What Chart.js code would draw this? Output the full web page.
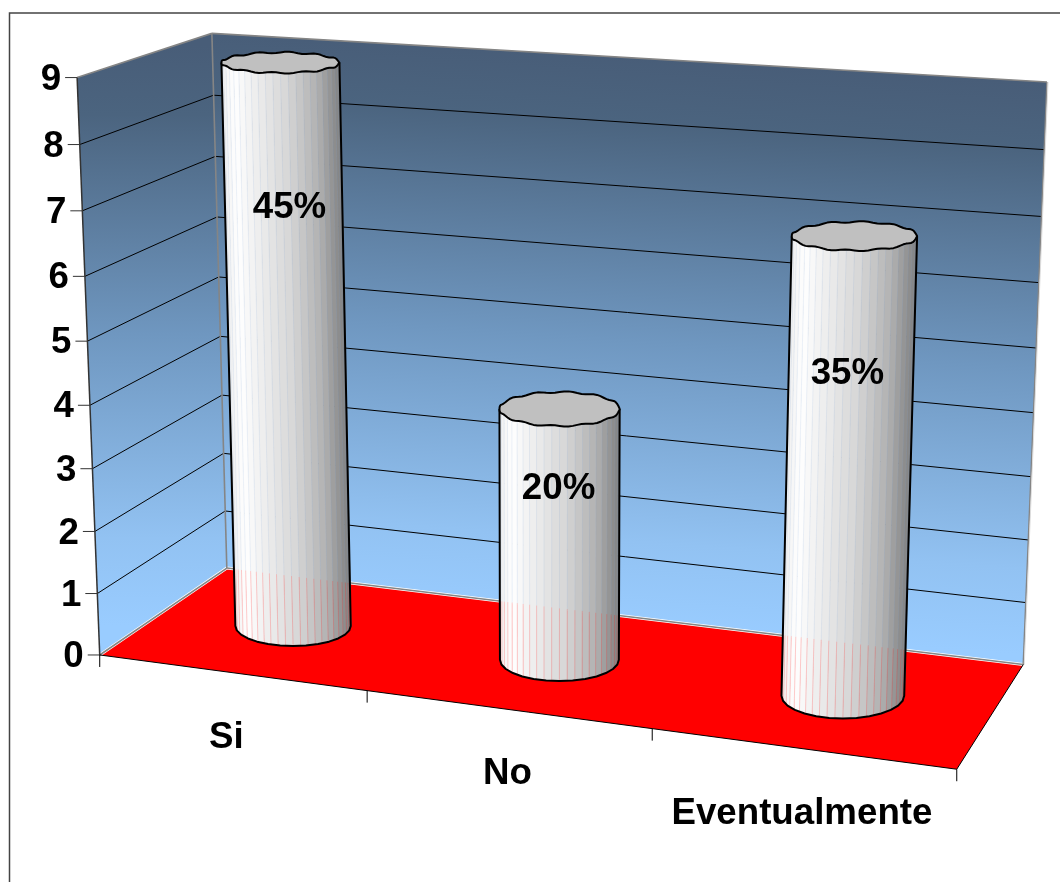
<!DOCTYPE html>
<html>
<head>
<meta charset="utf-8">
<title>Si / No / Eventualmente</title>
<script src="https://cdn.jsdelivr.net/npm/chart.js@4"></script>
<style>
    html, body { margin: 0; padding: 0; background: #fff; }
    canvas { display: block; }
</style>
</head>
<body>
<canvas id="chart" width="1060" height="882"></canvas>
<script>
const categories = ['Si', 'No', 'Eventualmente'];
const answers = [9, 4, 7];
const valueTicks = [0, 1, 2, 3, 4, 5, 6, 7, 8, 9];

// Box corners as [u, v, w, screenX, screenY]: u runs along the categories,
// v up the value axis, w into the depth of the box
const boxCorners = [
    [0, 0, 0, 100, 655], [0, 0, 1, 227, 568], [1, 0, 1, 1023, 665], [1, 0, 0, 957, 768],
    [0, 1, 0, 77, 78], [0, 1, 1, 212, 33], [1, 1, 1, 1047, 82],
    [1 / 3, 0, 0, 366, 690], [2 / 3, 0, 0, 653, 730],
];

// Where the percentage sits, relative to the top of each cylinder
const percentOffsets = [[9, 145], [-1, 80], [-7, 138]];
// Sideways nudge of the category names
const categoryNudge = [-5, 0, 0];

const FONT = 'bold 36.7px "Liberation Sans", Arial, sans-serif';

function solveLinear(a, b) {
    const n = b.length;
    for (let i = 0; i < n; i++) {
        let pivot = i;
        for (let r = i + 1; r < n; r++) {
            if (Math.abs(a[r][i]) > Math.abs(a[pivot][i])) pivot = r;
        }
        [a[i], a[pivot]] = [a[pivot], a[i]];
        [b[i], b[pivot]] = [b[pivot], b[i]];
        for (let r = i + 1; r < n; r++) {
            const f = a[r][i] / a[i][i];
            for (let c = i; c < n; c++) a[r][c] -= f * a[i][c];
            b[r] -= f * b[i];
        }
    }
    const out = new Array(n).fill(0);
    for (let i = n - 1; i >= 0; i--) {
        let s = b[i];
        for (let c = i + 1; c < n; c++) s -= a[i][c] * out[c];
        out[i] = s / a[i][i];
    }
    return out;
}

// Least squares fit of a perspective camera through the box corners
function fitCamera(points) {
    const rows = [];
    const rhs = [];
    points.forEach(([u, v, w, px, py]) => {
        const x = px / 1000;
        const y = py / 1000;
        rows.push([u, v, w, 1, 0, 0, 0, 0, -x * u, -x * v, -x * w]);
        rhs.push(x);
        rows.push([0, 0, 0, 0, u, v, w, 1, -y * u, -y * v, -y * w]);
        rhs.push(y);
    });
    const ata = [];
    const atb = [];
    for (let i = 0; i < 11; i++) {
        ata.push([]);
        let s = 0;
        for (let j = 0; j < 11; j++) {
            let t = 0;
            rows.forEach((r) => { t += r[i] * r[j]; });
            ata[i].push(t);
        }
        rows.forEach((r, k) => { s += r[i] * rhs[k]; });
        atb.push(s);
    }
    return solveLinear(ata, atb);
}

const cam = fitCamera(boxCorners);

function project(u, v, w) {
    const d = cam[8] * u + cam[9] * v + cam[10] * w + 1;
    return {
        x: 1000 * (cam[0] * u + cam[1] * v + cam[2] * w + cam[3]) / d,
        y: 1000 * (cam[4] * u + cam[5] * v + cam[6] * w + cam[7]) / d,
    };
}

function line(ctx, a, b, color, width) {
    ctx.strokeStyle = color;
    ctx.lineWidth = width;
    ctx.beginPath();
    ctx.moveTo(a.x, a.y);
    ctx.lineTo(b.x, b.y);
    ctx.stroke();
}

function polygon(ctx, pts, fill) {
    ctx.fillStyle = fill;
    ctx.beginPath();
    pts.forEach((p, i) => (i ? ctx.lineTo(p.x, p.y) : ctx.moveTo(p.x, p.y)));
    ctx.closePath();
    ctx.fill();
}

function wallGradient(ctx, x0, y0, x1, y1) {
    const g = ctx.createLinearGradient(x0, y0, x1, y1);
    g.addColorStop(0, '#485d78');
    g.addColorStop(0.12, '#4b647f');
    g.addColorStop(0.5, '#6f97c0');
    g.addColorStop(0.85, '#92c2f2');
    g.addColorStop(1, '#99ccff');
    return g;
}

// Facet colour across the visible half of a cylinder, f goes from left to right edge
const shadeStops = [[0, 238], [0.1, 255], [0.3, 236], [0.55, 214], [0.8, 178], [1, 128]];
function shade(f) {
    for (let i = 1; i < shadeStops.length; i++) {
        if (f <= shadeStops[i][0]) {
            const [f0, c0] = shadeStops[i - 1];
            const [f1, c1] = shadeStops[i];
            const c = Math.round(c0 + (c1 - c0) * (f - f0) / (f1 - f0));
            return `rgb(${c},${c},${c})`;
        }
    }
    return 'rgb(128,128,128)';
}

const FACETS = 24;
const RADIUS_U = 0.0715;
const RADIUS_W = 0.225;

function ring(u, v) {
    const c = project(u, v, 0.5);
    const l = project(u - RADIUS_U, v, 0.5);
    const r = project(u + RADIUS_U, v, 0.5);
    const near = project(u, v, 0.5 - RADIUS_W);
    const far = project(u, v, 0.5 + RADIUS_W);
    // The cylinders widen less towards the viewer than the box does
    const rx = ((r.x - l.x) / 2 + 60) / 2;
    return { x: c.x, y: c.y, rx, ry: Math.abs(near.y - far.y) / 2 };
}

function ringPoint(e, theta, wobble) {
    return {
        x: e.x - e.rx * Math.cos(theta),
        y: e.y + e.ry * Math.sin(theta) + wobble * Math.sin(theta * 12),
    };
}

function drawCylinder(ctx, u, v) {
    const top = ring(u, v);
    const bottom = ring(u, 0);
    const backA = project(0, 0, 1);
    const backB = project(1, 0, 1);
    const topEdge = [];
    const bottomEdge = [];
    for (let i = 0; i <= FACETS; i++) {
        const t = Math.PI * i / FACETS;
        topEdge.push(ringPoint(top, t, 0));
        bottomEdge.push(ringPoint(bottom, t, 0));
    }

    // Side facets, overlapped slightly so no gap shows between them
    for (let i = 0; i < FACETS; i++) {
        const t = Math.PI * (i + 0.5) / FACETS;
        const quad = [
            topEdge[i], { x: topEdge[i + 1].x + 0.6, y: topEdge[i + 1].y },
            { x: bottomEdge[i + 1].x + 0.6, y: bottomEdge[i + 1].y }, bottomEdge[i],
        ];
        polygon(ctx, quad, shade((1 - Math.cos(t)) / 2));
    }

    // Hairline seams between facets take a little of what is behind the cylinder
    for (let i = 1; i < FACETS; i++) {
        const a = topEdge[i];
        const b = bottomEdge[i];
        const k = (b.x - backA.x) / (backB.x - backA.x);
        const floorY = backA.y + (backB.y - backA.y) * k;
        const s = (floorY - a.y) / (b.y - a.y);
        const m = s > 0 ? { x: a.x + (b.x - a.x) * s, y: floorY } : a;
        if (s > 0) line(ctx, a, m, 'rgba(130,160,215,0.14)', 1);
        line(ctx, m, b, 'rgba(255,40,40,0.24)', 1);
    }

    ctx.lineJoin = 'round';
    ctx.strokeStyle = '#000';
    ctx.lineWidth = 2;
    ctx.beginPath();
    ctx.moveTo(top.x - top.rx, top.y);
    ctx.lineTo(bottom.x - bottom.rx, bottom.y);
    for (let i = 0; i <= 14; i++) {
        const p = ringPoint(bottom, Math.PI * i / 14, 0);
        ctx.lineTo(p.x, p.y);
    }
    ctx.lineTo(top.x + top.rx, top.y);
    ctx.stroke();

    // Scalloped cap
    ctx.fillStyle = '#c0c0c0';
    ctx.beginPath();
    for (let i = 0; i <= 84; i++) {
        const p = ringPoint(top, 2 * Math.PI * i / 84, 0.8);
        if (i) ctx.lineTo(p.x, p.y);
        else ctx.moveTo(p.x, p.y);
    }
    ctx.closePath();
    ctx.fill();
    ctx.stroke();
}

// Walls, floor and gridlines go down before the bars
const boxPlugin = {
    id: 'box',
    beforeDatasetsDraw(chart) {
        const ctx = chart.ctx;
        const yScale = chart.scales.y;
        const area = chart.chartArea;
        const toV = (value) => (area.bottom - yScale.getPixelForValue(value)) / (area.bottom - area.top);

        ctx.save();
        ctx.strokeStyle = '#444';
        ctx.lineWidth = 1.5;
        ctx.beginPath();
        ctx.moveTo(9.5, chart.height);
        ctx.lineTo(9.5, 13);
        ctx.lineTo(chart.width, 13);
        ctx.stroke();

        const c = {
            a0: project(0, 0, 0), b0: project(0, 0, 1), r0: project(1, 0, 1), f0: project(1, 0, 0),
            a1: project(0, 1, 0), b1: project(0, 1, 1), r1: project(1, 1, 1),
        };
        polygon(ctx, [c.a0, c.b0, c.b1, c.a1], wallGradient(ctx, 0, 45, 0, 625));
        polygon(ctx, [c.b0, c.r0, c.r1, c.b1], wallGradient(ctx, 640, 55, 600, 625));
        polygon(ctx, [c.a0, c.b0, c.r0, c.f0], '#ff0000');

        valueTicks.forEach((value) => {
            const v = toV(value);
            const a = project(0, v, 0);
            const b = project(0, v, 1);
            const r = project(1, v, 1);
            if (value > 0 && value < 9) {
                line(ctx, a, b, '#000', 1);
                line(ctx, b, r, '#000', 1);
            }
            line(ctx, { x: a.x - 12, y: a.y }, a, '#333', 1);
            ctx.font = FONT;
            ctx.fillStyle = '#000';
            ctx.textAlign = 'right';
            ctx.textBaseline = 'middle';
            ctx.fillText(String(value), a.x - 16, a.y + 2);
        });

        // Light edges of the walls, then the dark front edges
        line(ctx, c.a0, c.b0, '#fff', 3);
        line(ctx, c.b0, c.r0, '#fff', 3);
        [[c.a0, c.b0], [c.b0, c.r0], [c.b0, c.b1], [c.a1, c.b1], [c.b1, c.r1], [c.r1, c.r0]].forEach(([p, q]) => {
            line(ctx, p, q, '#858585', 1.6);
        });
        line(ctx, { x: c.r1.x + 1, y: c.r1.y }, { x: c.r0.x + 1, y: c.r0.y }, '#ddd', 1);
        line(ctx, c.a0, c.a1, '#333', 1.5);
        line(ctx, c.a0, c.f0, '#000', 1);
        line(ctx, c.f0, c.r0, '#000', 1);

        // Category ticks and labels hang off the front edge of the floor
        [0, 1, 2, 3].forEach((i) => {
            const p = project(i / 3, 0, 0);
            line(ctx, p, { x: p.x, y: p.y + 12 }, '#000', 1);
        });
        const xScale = chart.scales.x;
        categories.forEach((label, i) => {
            const u = (xScale.getPixelForValue(i) - area.left) / (area.right - area.left);
            const p = project(u, 0, 0);
            ctx.font = FONT;
            ctx.fillStyle = '#000';
            ctx.textAlign = 'center';
            ctx.textBaseline = 'middle';
            ctx.fillText(label, p.x + categoryNudge[i], p.y + 65);
        });
        ctx.restore();
    },
    afterDatasetsDraw(chart) {
        const ctx = chart.ctx;
        const area = chart.chartArea;
        const total = answers.reduce((a, b) => a + b, 0);
        ctx.save();
        chart.getDatasetMeta(0).data.forEach((bar, i) => {
            const u = (bar.x - area.left) / (area.right - area.left);
            const v = (bar.base - bar.y) / (area.bottom - area.top);
            drawCylinder(ctx, u, v);
            const top = project(u, v, 0.5);
            const [dx, dy] = percentOffsets[i];
            ctx.font = FONT;
            ctx.fillStyle = '#000';
            ctx.textAlign = 'center';
            ctx.textBaseline = 'middle';
            ctx.fillText(`${Math.round(answers[i] / total * 100)}%`, top.x + dx, top.y + dy);
        });
        ctx.restore();
    },
};

new Chart(document.getElementById('chart'), {
    type: 'bar',
    data: {
        labels: categories,
        datasets: [{ data: answers, backgroundColor: 'transparent', borderWidth: 0 }],
    },
    options: {
        responsive: false,
        animation: false,
        layout: { padding: { left: 100, top: 78, right: 103, bottom: 227 } },
        plugins: { legend: { display: false }, tooltip: { enabled: false } },
        scales: {
            x: { display: false },
            y: { display: false, min: 0, max: 9, ticks: { stepSize: 1 } },
        },
    },
    plugins: [boxPlugin],
});
</script>
</body>
</html>
